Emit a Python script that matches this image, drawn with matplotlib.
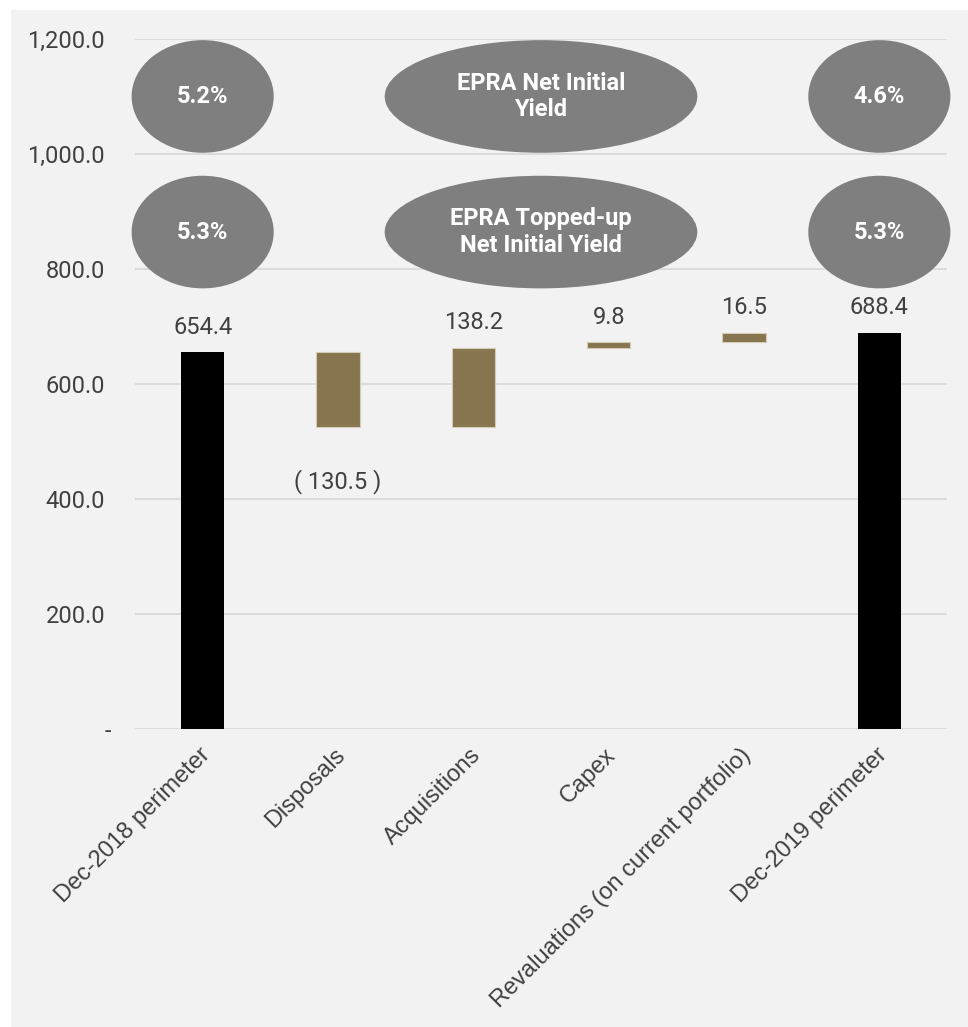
import matplotlib
matplotlib.use("Agg")
import matplotlib.pyplot as plt
from matplotlib.patches import Ellipse, Rectangle
from matplotlib.ticker import FuncFormatter
from matplotlib.transforms import ScaledTranslation

# Portfolio value bridge, Dec-2018 to Dec-2019
categories = ["Dec-2018 perimeter", "Disposals", "Acquisitions", "Capex",
              "Revaluations (on current portfolio)", "Dec-2019 perimeter"]
values = [654.4, -130.5, 138.2, 9.8, 16.5, 688.4]
is_total = [True, False, False, False, False, True]

# Yield badges: (x centre, label) for each row
niy_labels = ["5.2%", "EPRA Net Initial\nYield", "4.6%"]
tniy_labels = ["5.3%", "EPRA Topped-up\nNet Initial Yield", "5.3%"]
badge_x = [0, 2.5, 5]
badge_w = [1.05, 2.31, 1.05]
row_y = [1100, 864]

TOTAL_COLOR = "#000000"
DELTA_COLOR = "#86754E"
TEXT_COLOR = "#404040"
PANEL_COLOR = "#F2F2F2"
BADGE_COLOR = "#7F7F7F"

fig = plt.figure(figsize=(9.68, 10.27), dpi=100)
fig.patch.set_facecolor("white")
fig.add_artist(Rectangle((11 / 968, 0), 1 - 11 / 968, 1 - 10 / 1027,
                         transform=fig.transFigure, facecolor=PANEL_COLOR,
                         edgecolor="none", zorder=0))

ax = fig.add_axes([135 / 968, 1 - 728.5 / 1027, (947 - 135) / 968, (728.5 - 39) / 1027])
ax.set_facecolor(PANEL_COLOR)
ax.patch.set_alpha(0)

# Waterfall geometry
bottoms, heights = [], []
running = 0.0
for v, tot in zip(values, is_total):
    if tot:
        bottoms.append(0.0)
        heights.append(v)
        running = v
    else:
        if v >= 0:
            bottoms.append(running)
        else:
            bottoms.append(running + v)
        heights.append(abs(v))
        running += v

x = list(range(len(categories)))
colors = [TOTAL_COLOR if t else DELTA_COLOR for t in is_total]
edges = ["none" if t else "#D3CBB6" for t in is_total]
ax.bar(x, heights, bottom=bottoms, width=0.32, color=colors,
       edgecolor=edges, linewidth=0.8, zorder=3)

label_font = dict(family=["Roboto", "DejaVu Sans"], fontsize=17, color=TEXT_COLOR)
for xi, v, b, h in zip(x, values, bottoms, heights):
    if v >= 0:
        ax.annotate(f"{v:,.1f}", (xi, b + h), xytext=(0, 13.5),
                    textcoords="offset points", ha="center", va="baseline",
                    **label_font)
    else:
        ax.annotate(f"( {abs(v):,.1f} )", (xi, b), xytext=(0, -44),
                    textcoords="offset points", ha="center", va="baseline",
                    **label_font)

# Yield badges
badge_font = dict(family=["Roboto", "DejaVu Sans"], fontsize=17,
                  fontweight="bold", color="white", linespacing=1.2)
for y, labels in zip(row_y, [niy_labels, tniy_labels]):
    for bx, bw, lab in zip(badge_x, badge_w, labels):
        ax.add_patch(Ellipse((bx, y), bw, 196, facecolor=BADGE_COLOR,
                             edgecolor="none", zorder=5, clip_on=False))
        ax.text(bx, y, lab, ha="center", va="center", zorder=6, **badge_font)

ax.set_xlim(-0.5, 5.5)
ax.set_ylim(0, 1200)
ax.set_yticks([0, 200, 400, 600, 800, 1000, 1200])
ax.yaxis.set_major_formatter(FuncFormatter(lambda v, p: "-" if v == 0 else f"{v:,.1f}"))
ax.grid(axis="y", color="#D9D9D9", linewidth=1.3, zorder=1)
ax.set_axisbelow(True)
for s in ax.spines.values():
    s.set_visible(False)

ax.tick_params(axis="y", length=0, pad=21.5, labelcolor=TEXT_COLOR, labelsize=17)
for lab in ax.get_yticklabels():
    lab.set_family(["Roboto", "DejaVu Sans"])
zero_lab = ax.get_yticklabels()[0]
zero_lab.set_transform(zero_lab.get_transform() + ScaledTranslation(6 / 100, 0, fig.dpi_scale_trans))

ax.set_xticks(x)
ax.set_xticklabels(categories, rotation=45, ha="right", va="center", rotation_mode="anchor",
                   family=["Liberation Sans", "DejaVu Sans"], fontsize=17, color=TEXT_COLOR)
ax.tick_params(axis="x", length=0, pad=17)
shift_right = ScaledTranslation(4 / 100, 0, fig.dpi_scale_trans)
for lab in ax.get_xticklabels():
    lab.set_transform(lab.get_transform() + shift_right)

fig.savefig("out.png", dpi=100, facecolor=fig.get_facecolor())
